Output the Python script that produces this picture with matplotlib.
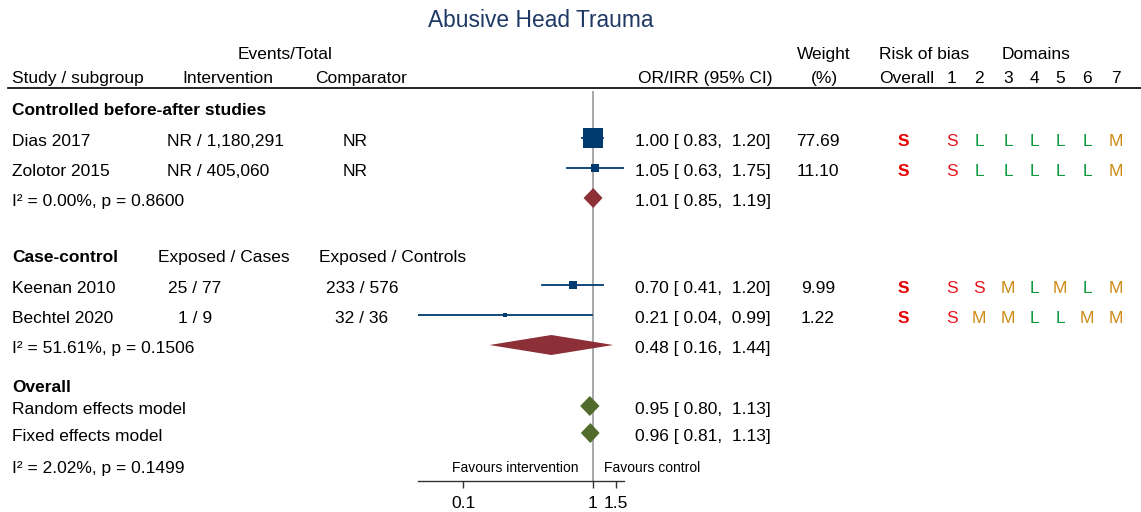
import numpy as np
import matplotlib
matplotlib.use("Agg")
from matplotlib import pyplot as plt
from matplotlib.ticker import NullLocator

plt.rcParams['font.family'] = ['Liberation Sans', 'DejaVu Sans']

# --- data -------------------------------------------------------------
studies = ["Dias 2017", "Zolotor 2015", "Keenan 2010", "Bechtel 2020"]
interv = ["NR / 1,180,291", "NR / 405,060", "25 / 77", "1 / 9"]
compar = ["NR", "NR", "233 / 576", "32 / 36"]
est = [1.00, 1.05, 0.70, 0.21]
lo = [0.83, 0.63, 0.41, 0.04]
hi = [1.20, 1.75, 1.20, 0.99]
weight = [77.69, 11.10, 9.99, 1.22]
rob_overall = ["S", "S", "S", "S"]
rob_domains = [list("SLLLLLM"), list("SLLLLLM"), list("SSMLMLM"), list("SMMLLMM")]

subgroups = ["Controlled before-after studies", "Case-control"]
sub_est = [1.01, 0.48]
sub_lo = [0.85, 0.16]
sub_hi = [1.19, 1.44]
sub_het = ["I² = 0.00%, p = 0.8600", "I² = 51.61%, p = 0.1506"]

models = ["Random effects model", "Fixed effects model"]
ov_est = [0.95, 0.96]
ov_lo = [0.80, 0.81]
ov_hi = [1.13, 1.13]
ov_het = "I² = 2.02%, p = 0.1499"

ticks = [0.1, 1, 1.5]
tick_labels = ["0.1", "1", "1.5"]

# --- layout (pixel rows = text baselines) -----------------------------
W, H = 1141, 512
study_rows = [146, 176, 293, 323]
sub_head_rows = [115, 262]
sub_het_rows = [206, 353]
overall_row = 392
model_rows = [414, 441]
ov_het_row = 473
mk_off = 8  # marker centre sits this far above the text baseline

navy = '#003b6f'
red_d = '#8c2f37'
green_d = '#516b2c'
rob_colors = {'S': '#e8141c', 'L': '#0a9a3c', 'M': '#cc8a14'}
fs = 12.5

fig = plt.figure(figsize=(W / 100, H / 100), dpi=100)
tab = fig.add_axes([0, 0, 1, 1])
tab.set_xlim(0, W)
tab.set_ylim(H, 0)
tab.axis('off')


def txt(x, y, s, ha='left', **kw):
    kw.setdefault('fontsize', fs)
    tab.text(x, y, s, ha=ha, va='baseline', **kw)


# title and header
txt(541, 27, "Abusive Head Trauma", ha='center', fontsize=16.4, color='#1f3864')
txt(285, 59, "Events/Total", ha='center')
txt(12, 83, "Study / subgroup")
txt(228, 83, "Intervention", ha='center')
txt(361, 83, "Comparator", ha='center')
txt(773, 83, "OR/IRR (95% CI)", ha='right')
txt(824, 59, "Weight", ha='center')
txt(824, 83, "(%)", ha='center')
txt(879, 59, "Risk of bias")
txt(1036, 59, "Domains", ha='center')
txt(907, 83, "Overall", ha='center')
dom_x = [952, 979, 1008, 1034, 1060, 1087, 1116]
for i, x in enumerate(dom_x):
    txt(x, 83, str(i + 1), ha='center')
tab.plot([8, W], [88, 88], color='black', lw=1.2)

# subgroup labels and study text
for i, name in enumerate(subgroups):
    txt(12, sub_head_rows[i], name, fontweight='bold')
    txt(12, sub_het_rows[i], sub_het[i])
txt(158, 262, "Exposed / Cases")
txt(319, 262, "Exposed / Controls")

for i, name in enumerate(studies):
    y = study_rows[i]
    txt(12, y, name)
    if i < 2:
        txt(167, y, interv[i])
        txt(343, y, compar[i])
    else:
        txt(195, y, interv[i], ha='center')
        txt(362, y, compar[i], ha='center')
    txt(635, y, f"{est[i]:.2f} [ {lo[i]:.2f},  {hi[i]:.2f}]")
    txt(818, y, f"{weight[i]:.2f}", ha='center')
    txt(903, y, rob_overall[i], ha='center', fontweight='bold',
        color='#e60000')
    for x, r in zip(dom_x, rob_domains[i]):
        txt(x, y, r, ha='center', color=rob_colors[r])

for i in range(2):
    txt(635, sub_het_rows[i],
        f"{sub_est[i]:.2f} [ {sub_lo[i]:.2f},  {sub_hi[i]:.2f}]")
    txt(635, model_rows[i],
        f"{ov_est[i]:.2f} [ {ov_lo[i]:.2f},  {ov_hi[i]:.2f}]")
    txt(12, model_rows[i], models[i])
txt(12, overall_row, "Overall", fontweight='bold')
txt(12, ov_het_row, ov_het)
txt(578, 472, "Favours intervention", ha='right', fontsize=10)
txt(604, 472, "Favours control", fontsize=10)

# --- forest axes --------------------------------------------------------
x_left, x_right, y_top, y_bot = 418, 624, 91, 481
ax = fig.add_axes([x_left / W, 1 - y_bot / H, (x_right - x_left) / W,
                   (y_bot - y_top) / H])
ax.set_xscale('log')
px_dec, px_one = 129.7, 592.7
ax.set_xlim(10 ** ((x_left - px_one) / px_dec), 10 ** ((x_right - px_one) / px_dec))
ax.set_ylim(y_bot, y_top)
ax.patch.set_alpha(0)
for s in ['top', 'left', 'right']:
    ax.spines[s].set_visible(False)
ax.spines['bottom'].set_color('#333333')
ax.spines['bottom'].set_linewidth(1.0)
ax.set_yticks([])
ax.set_xticks(ticks)
ax.set_xticklabels(tick_labels)
ax.xaxis.set_minor_locator(NullLocator())
ax.tick_params(axis='x', length=5, width=1, color='#333333', pad=6,
               labelsize=12.5)
ax.axvline(1, color='#9a9a9a', lw=1.2, zorder=0)

for i in range(len(studies)):
    y = study_rows[i] - mk_off
    ax.plot([lo[i], hi[i]], [y, y], color=navy, lw=1.3)
    side = max(2.27 * np.sqrt(weight[i]), 4.0) * 0.72
    ax.plot(est[i], y, marker='s', ms=side, color=navy, mec=navy, mew=0)


def diamond(e, l, h, y, color, half=10):
    ax.fill([l, e, h, e], [y, y - half, y, y + half], color=color, lw=0)


for i in range(2):
    diamond(sub_est[i], sub_lo[i], sub_hi[i], sub_het_rows[i] - mk_off, red_d)
    diamond(ov_est[i], ov_lo[i], ov_hi[i], model_rows[i] - mk_off, green_d)

fig.savefig("out.png", dpi=100)
